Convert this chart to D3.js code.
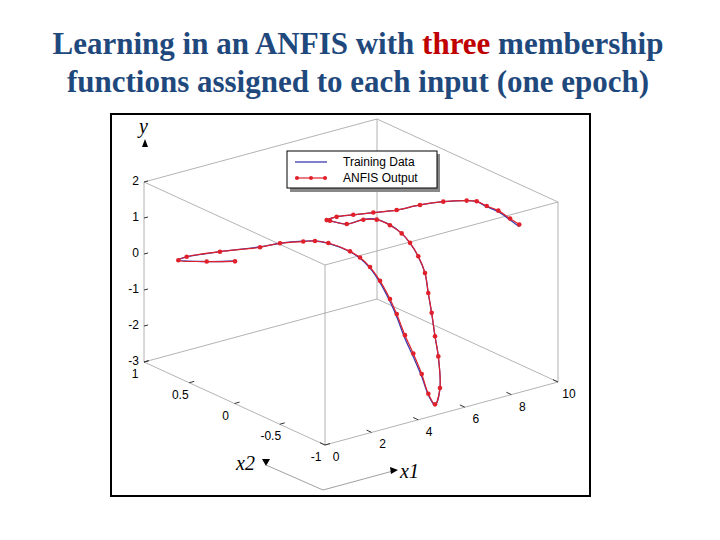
<!DOCTYPE html>
<html><head><meta charset="utf-8">
<script src="https://cdn.jsdelivr.net/npm/d3@7"></script>
<style>body{margin:0;background:#fff}</style></head>
<body><svg id="c" width="720" height="540"></svg>
<script>
// Trajectory data (x1, x2, y)
const x1 = [0.2,0.4,0.6,0.8,1.0,1.2,1.4,1.6,1.8,2.0,2.2,2.4,2.6,2.8,3.1,3.4,3.75,4.1,4.5,4.85,5.3,
  5.4,5.5,5.6,5.7,5.8,5.9,6.0,6.1,6.2,6.3,6.4,6.5,6.6,6.7,6.8,
  7.05,7.3,7.55,7.8,8.05,8.3,8.55,8.8,9.05,9.3,9.6,9.9];
const x2 = [0.046,0.41,0.775,0.734,0.418,0.027,-0.142,-0.348,-0.426,-0.522,-0.71,-0.769,-0.828,-0.887,-0.92,-0.917,-0.918,-0.92,-0.91,-0.893,-0.851,
  -0.88,-0.836,-0.774,-0.711,-0.648,-0.586,-0.486,-0.369,-0.251,-0.096,0.076,0.25,0.459,0.67,0.732,
  0.686,0.567,0.41,0.216,0.023,-0.17,-0.364,-0.411,-0.457,-0.521,-0.573,-0.598];
const yTrain = [0.87,0.40,-0.01,0.09,0.56,1.11,1.37,1.63,1.69,1.70,1.65,1.50,1.26,0.89,0.35,-0.13,-0.79,-1.36,-1.99,-2.58,-2.99,
  -2.51,-1.70,-1.23,-0.67,-0.21,0.26,0.59,0.81,0.93,0.97,0.91,0.69,0.30,0.13,0.06,
  0.16,0.31,0.51,0.76,1.08,1.35,1.56,1.54,1.41,1.30,1.08,0.87];
const yAnfis = [0.86,0.40,-0.02,0.09,0.56,1.10,1.37,1.62,1.69,1.71,1.66,1.52,1.29,0.94,0.42,-0.05,-0.70,-1.27,-1.92,-2.55,-2.97,
  -2.50,-1.69,-1.22,-0.66,-0.20,0.27,0.60,0.82,0.93,0.96,0.90,0.68,0.30,0.13,0.06,
  0.16,0.31,0.51,0.76,1.08,1.35,1.56,1.55,1.43,1.33,1.12,0.93];
const yTicks = [2,1,0,-1,-2,-3];
const x2Ticks = [1,0.5,0,-0.5,-1];
const x1Ticks = [0,2,4,6,8,10];

const svg = d3.select("#c");
const sx1 = d3.scaleLinear().domain([0,10]).range([0,233]);
const sx1v = d3.scaleLinear().domain([0,10]).range([0,-63]);
const sx2 = d3.scaleLinear().domain([-1,1]).range([0,-181]);
const sx2v = d3.scaleLinear().domain([-1,1]).range([0,-83]);
const sy = d3.scaleLinear().domain([-3,2]).range([0,-180]);
const P = (a,b,c)=>[325+sx1(a)+sx2(b), 445+sx1v(a)+sx2v(b)+sy(c)];

const tf = "Liberation Serif", tc = "#1f497d";
const t = svg.append("text").attr("x",358).attr("y",54).attr("text-anchor","middle")
  .attr("font-family",tf).attr("font-weight","bold").attr("font-size",31).attr("fill",tc);
t.append("tspan").text("Learning in an ANFIS with ");
t.append("tspan").attr("fill","#c00000").text("three");
t.append("tspan").text(" membership");
svg.append("text").attr("x",358).attr("y",92).attr("text-anchor","middle")
  .attr("font-family",tf).attr("font-weight","bold").attr("font-size",31).attr("fill",tc)
  .text("functions assigned to each input (one epoch)");

svg.append("rect").attr("x",111).attr("y",114).attr("width",479).attr("height",382)
  .attr("fill","none").attr("stroke","#000").attr("stroke-width",2);

const edges = [];
const base = [[0,-1],[10,-1],[10,1],[0,1]];
base.forEach((p,i)=>{
  const q = base[(i+1)%4];
  [-3,2].forEach(z=>edges.push([P(p[0],p[1],z),P(q[0],q[1],z)]));
  edges.push([P(p[0],p[1],-3),P(p[0],p[1],2)]);
});
svg.append("g").selectAll("line").data(edges).join("line")
  .attr("x1",d=>d[0][0]).attr("y1",d=>d[0][1]).attr("x2",d=>d[1][0]).attr("y2",d=>d[1][1])
  .attr("stroke","#a0a0a0").attr("stroke-width",0.8);

const font = "Liberation Sans";
yTicks.forEach(v=>{
  const p = P(0,1,v);
  svg.append("line").attr("x1",p[0]).attr("y1",p[1]).attr("x2",p[0]+4).attr("y2",p[1]-1).attr("stroke","#333");
  svg.append("text").attr("x",p[0]-5).attr("y",p[1]+3).attr("text-anchor","end")
    .attr("font-family",font).attr("font-size",12).text(v);
});
x2Ticks.forEach(v=>{
  const p = P(0,v,-3);
  svg.append("line").attr("x1",p[0]).attr("y1",p[1]).attr("x2",p[0]+5).attr("y2",p[1]-1.4).attr("stroke","#333");
  svg.append("text").attr("x",p[0]-9).attr("y",p[1]+16).attr("text-anchor","middle")
    .attr("font-family",font).attr("font-size",12).text(v);
});
x1Ticks.forEach(v=>{
  const p = P(v,-1,-3);
  svg.append("line").attr("x1",p[0]).attr("y1",p[1]).attr("x2",p[0]-5).attr("y2",p[1]-2.3).attr("stroke","#333");
  svg.append("text").attr("x",p[0]+11).attr("y",p[1]+16).attr("text-anchor","middle")
    .attr("font-family",font).attr("font-size",12).text(v);
});

const lab = (x,y,s)=>svg.append("text").attr("x",x).attr("y",y).attr("font-family","Liberation Serif")
  .attr("font-style","italic").attr("font-size",20).text(s);
lab(139,133,"y");
svg.append("path").attr("d","M145,139 L142,147 L148,147 Z").attr("fill","#000");
lab(236,470,"x2");
svg.append("path").attr("d","M262,459 L270,459 L266,466 Z").attr("fill","#000");
svg.append("polyline").attr("points","266,465 323,490 393,471").attr("fill","none").attr("stroke","#888").attr("stroke-width",0.8);
svg.append("path").attr("d","M398,470 L390,467 L391,474 Z").attr("fill","#000");
lab(400,478,"x1");

const line = d3.line().x(d=>d[0]).y(d=>d[1]).curve(d3.curveCatmullRom);
const train = x1.map((v,i)=>P(v,x2[i],yTrain[i]));
const anfis = x1.map((v,i)=>P(v,x2[i],yAnfis[i]));
svg.append("path").attr("d",line(train)).attr("fill","none").attr("stroke","#3b3bb0").attr("stroke-width",1.3);
svg.append("path").attr("d",line(anfis)).attr("fill","none").attr("stroke","#e0202a").attr("stroke-width",1.2);
svg.append("g").selectAll("circle").data(anfis).join("circle")
  .attr("cx",d=>d[0]).attr("cy",d=>d[1]).attr("r",2.3).attr("fill","#e0202a");

svg.append("rect").attr("x",290).attr("y",154).attr("width",150).attr("height",38).attr("fill","#888");
svg.append("rect").attr("x",287).attr("y",151).attr("width",150).attr("height",37).attr("fill","#fff").attr("stroke","#000");
svg.append("line").attr("x1",295).attr("x2",327).attr("y1",162).attr("y2",162).attr("stroke","#3b3bb0").attr("stroke-width",1.3);
svg.append("line").attr("x1",295).attr("x2",327).attr("y1",178).attr("y2",178).attr("stroke","#e0202a").attr("stroke-width",1.2);
[297,311,325].forEach(x=>svg.append("circle").attr("cx",x).attr("cy",178).attr("r",2).attr("fill","#e0202a"));
svg.append("text").attr("x",343).attr("y",166).attr("font-family",font).attr("font-size",12).text("Training Data");
svg.append("text").attr("x",343).attr("y",182).attr("font-family",font).attr("font-size",12).text("ANFIS Output");
</script></body></html>
